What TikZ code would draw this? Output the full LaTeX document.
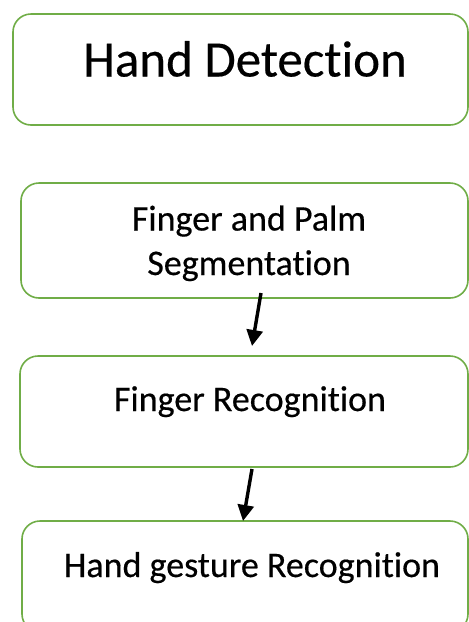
\documentclass[tikz,border=0pt]{standalone}
\usepackage{fontspec}
\setmainfont{Carlito}[Ligatures=NoCommon,FakeBold=0.4]
\usetikzlibrary{arrows.meta}
\definecolor{boxgreen}{RGB}{112,173,71}
\begin{document}
\begin{tikzpicture}[x=1pt,y=-1pt,
  box/.style={draw=boxgreen, line width=1.6pt, rounded corners=18pt, fill=none, inner sep=0pt},
  big/.style={font=\fontsize{51}{60}\selectfont, anchor=base, inner sep=0pt},
  small/.style={font=\fontsize{36}{44}\selectfont, anchor=base, inner sep=0pt},
  arr/.style={line width=3.4pt, -{Triangle[length=16pt,width=16pt]}}]
\useasboundingbox (0,0) rectangle (469,622);
\clip (0,0) rectangle (469,622);
\node[box, minimum width=455pt, minimum height=111pt] (b1) at (240.5,69.5) {};
\node[box, minimum width=447pt, minimum height=115pt] (b2) at (244.5,240.5) {};
\node[box, minimum width=448pt, minimum height=111pt] (b3) at (244,411.5) {};
\node[box, minimum width=446pt, minimum height=111pt] (b4) at (245,576.5) {};
\node[big] (t1) at (245,76.5) {Hand Detection};
\node[small] (t2a) at (249,230.5) {Finger and Palm};
\node[small] (t2b) at (249,275) {Segmentation};
\node[small] (t3) at (250,411) {Finger Recognition};
\node[small] (t4) at (252,577) {Hand gesture Recognition};
\coordinate (s1) at (261,293);
\coordinate (e1) at (252,346);
\coordinate (s2) at (252,469);
\coordinate (e2) at (243,521);
\draw[arr] (s1) -- (e1);
\draw[arr] (s2) -- (e2);
\end{tikzpicture}
\end{document}
